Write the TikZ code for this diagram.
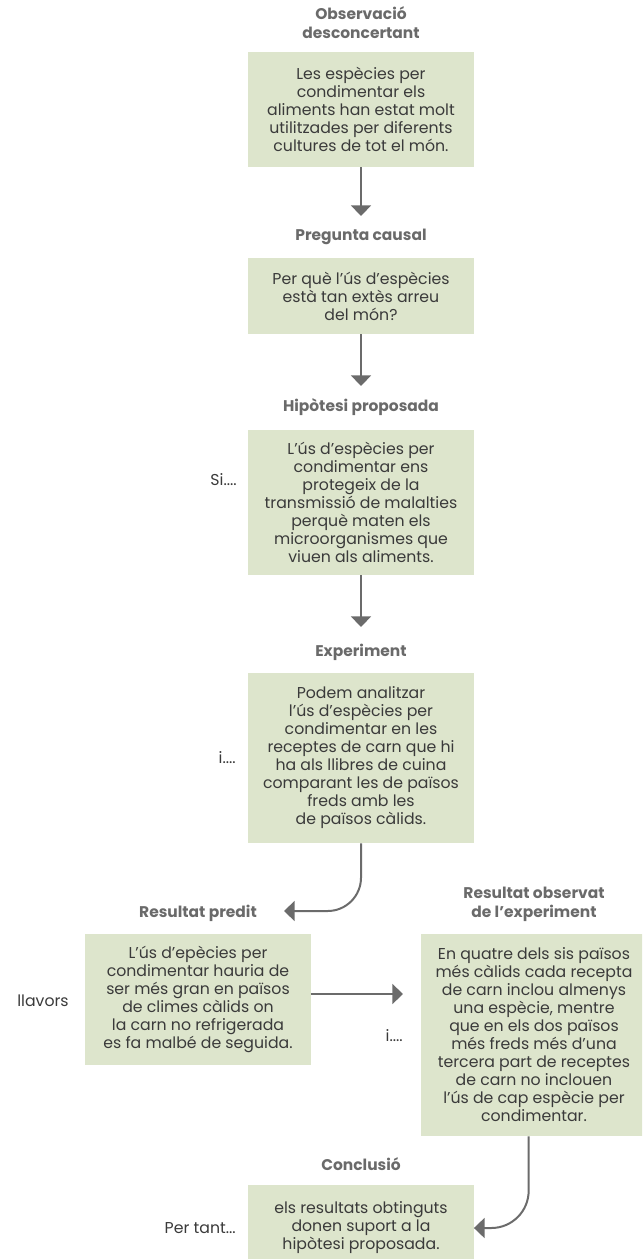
\documentclass[tikz,border=0pt]{standalone}
\usepackage{fontspec}
\setmainfont{Poppins}
\usepackage{xcolor}
\usetikzlibrary{arrows.meta}
\definecolor{verdcaixa}{HTML}{DDE5CC}
\definecolor{textfosc}{HTML}{3A3A3A}
\definecolor{titolgris}{HTML}{6A6A6A}
\definecolor{fletxagris}{HTML}{6B6B6B}

\begin{document}
\begin{tikzpicture}[x=0.75pt,y=-0.75pt,
  caixa/.style={fill=verdcaixa,text=textfosc,align=center,inner sep=0pt,
    minimum width=169pt,font=\fontsize{11.8}{13.5}\selectfont},
  titol/.style={text=titolgris,align=center,font=\fontsize{11.6}{14}\selectfont\bfseries},
  nota/.style={text=textfosc,anchor=east,inner sep=0pt,font=\fontsize{11.8}{13.5}\selectfont},
  fletxa/.style={draw=fletxagris,line width=1.5pt,-{Triangle[width=15pt,length=8pt]}}]
\clip(0,0)rectangle(642,1259);
\node[titol](t1)at(361,22.5){Observació\\desconcertant};
\node[caixa,minimum height=86pt](b1)at(361,109.5){Les espècies per\\condimentar els\\aliments han estat molt\\utilitzades per diferents\\cultures de tot el món.};
\coordinate(p1)at(361,216);
\draw[fletxa](b1.south)--(p1);
\node[titol](t2)at(361,237){Pregunta causal};
\node[caixa,minimum height=57pt](b2)at(361,296){Per què l’ús d’espècies\\està tan extès arreu\\del món?};
\coordinate(p2)at(361,386);
\draw[fletxa](b2.south)--(p2);
\node[titol](t3)at(361,407){Hipòtesi proposada};
\node[caixa,minimum height=109pt](b3)at(361,502.5){L’ús d’espècies per\\condimentar ens\\protegeix de la\\transmissió de malalties\\perquè maten els\\microorganismes que\\viuen als aliments.};
\node[nota](si)at(237,480){Si....};
\coordinate(p3)at(361,627);
\draw[fletxa](b3.south)--(p3);
\node[titol](t4)at(361,652){Experiment};
\node[caixa,minimum height=127.5pt](b4)at(361,758){Podem analitzar\\l’ús d’espècies per\\condimentar en les\\receptes de carn que hi\\ha als llibres de cuina\\comparant les de països\\freds amb les\\de països càlids.};
\node[nota](i1)at(236,758){i....};
\coordinate(p4)at(284,911);
\draw[fletxa,rounded corners=25pt](b4.south)|-(p4);
\node[titol](t5)at(198,913){Resultat predit};
\node[titol](t6)at(534,904){Resultat observat\\de l’experiment};
\node[caixa,minimum height=98pt](b5)at(198,999.5){L’ús d’epècies per\\condimentar hauria de\\ser més gran en països\\de climes càlids on\\la carn no refrigerada\\es fa malbé de seguida.};
\node[caixa,minimum height=151.5pt](b6)at(534,1035){En quatre dels sis països\\més càlids cada recepta\\de carn inclou almenys\\una espècie, mentre\\que en els dos països\\més freds més d’una\\tercera part de receptes\\de carn no inclouen\\l’ús de cap espècie per\\condimentar.};
\node[nota,anchor=center](ll)at(43,1001){llavors};
\coordinate(p5)at(403,994);
\draw[fletxa](b5.east|-p5)--(p5);
\node[nota](i2)at(403,1036){i....};
\node[titol](t7)at(361,1164){Conclusió};
\node[caixa,minimum height=64.5pt](b7)at(361,1228){els resultats obtinguts\\donen suport a la\\hipòtesi proposada.};
\node[nota](pt)at(236,1228){Per tant...};
\draw[fletxa,rounded corners=28pt]([xshift=-4pt]b6.south)|-(b7.east);
\end{tikzpicture}
\end{document}
